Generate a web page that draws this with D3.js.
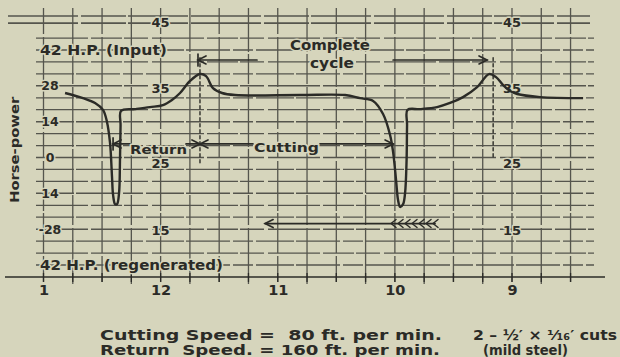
<!DOCTYPE html>
<html>
<head>
<meta charset="utf-8">
<script src="https://cdn.jsdelivr.net/npm/d3@7"></script>
<style>
  html, body { margin: 0; padding: 0; background: #d6d5bc; }
  svg { display: block; }
  text {
    font-family: "DejaVu Sans", "Liberation Sans", Arial, sans-serif;
    font-weight: bold;
    fill: #2b2b27;
    white-space: pre;
  }
  .halo { paint-order: stroke; stroke: #d6d5bc; stroke-width: 3px; stroke-linejoin: round; }
</style>
</head>
<body>
<svg id="chart" width="620" height="357"></svg>
<script>
// Clock readings along the record (running right to left), and their labels
const timeTicks = [13, 12, 11, 10, 9];
const timeTickLabels = ["1", "12", "11", "10", "9"];

// Horse-power scale
const hpTicks = [28, 14, 0, -14, -28];
const hpTickLabels = ["28", "14", "0", "14", "-28"];

// Recorder paper scale figures
const paperScaleLabels = ["45", "35", "25", "15"];
const paperScaleHP = [52.9, 27.1, -2.0, -28.3];
const paperScaleTimes = [12, 9];

// Power trace over two planer strokes (time, horse-power)
const traceTime = [12.816, 12.663, 12.560, 12.492, 12.458, 12.432, 12.415, 12.406, 12.389, 12.372,
  12.355, 12.347, 12.342, 12.338, 12.219, 12.091, 11.980, 11.903, 11.834, 11.749,
  11.664, 11.612, 11.553, 11.476, 11.365, 10.810, 10.425, 10.297, 10.186, 10.101,
  10.041, 10.015, 9.990, 9.973, 9.956, 9.930, 9.913, 9.900, 9.896, 9.892,
  9.785, 9.640, 9.529, 9.418, 9.298, 9.196, 9.136, 9.076, 9.016, 8.956,
  8.760, 8.393];
const traceHP = [25.2, 23.2, 21.3, 18.6, 13.9, 5.7, -7.6, -14.6, -18.2, -18.2,
  -13.9, -1.0, 12.7, 18.2, 18.9, 19.7, 20.5, 22.5, 25.2, 29.9,
  32.6, 31.8, 27.1, 25.2, 24.4, 24.4, 24.4, 23.2, 22.1, 17.0,
  8.8, 2.1, -8.8, -16.6, -19.3, -18.2, -13.9, -1.0, 12.7, 18.6,
  18.9, 19.7, 21.3, 23.6, 27.5, 32.6, 31.4, 28.3, 26.0, 24.8,
  23.6, 23.2];

// Stroke phases marked under the trace (times)
const returnSpan = [12.406, 11.664];
const cuttingSpan = [11.664, 10.015];
const cycleSpan = [11.681, 9.213];
const cycleLeftEnd = 11.177;
const cycleRightStart = 10.015;
const regenArrow = [11.108, 9.657];

const svg = d3.select("#chart");
const ink = "#2b2b27";
const gridInk = "#55554d";

const x = d3.scaleLinear().domain([13, 9]).range([43.5, 512]);
const y = d3.scaleLinear().domain([42, -42]).range([50, 265]);

// ---- chart paper grid ----
const grid = svg.append("g");
const hLines = d3.range(-9, 11).map(k => k * 14 / 3);
grid.selectAll(".h").data(hLines).join("line")
  .attr("x1", 36).attr("x2", 594)
  .attr("y1", d => y(d)).attr("y2", d => y(d))
  .attr("stroke", gridInk)
  .attr("stroke-width", d => (Math.abs(d) % 14 < 0.01 ? 1.5 : 1.2))
  .attr("stroke-dasharray", (d, i) => i % 2 ? "52,3,31,2,24,4" : "38,2,44,3,20,3");

// heavy double rule along the top edge of the paper
[52.5, 55.3].forEach(v => {
  grid.append("line")
    .attr("x1", 8).attr("x2", 590)
    .attr("y1", y(v)).attr("y2", y(v))
    .attr("stroke", gridInk).attr("stroke-width", 1.6)
    .attr("stroke-dasharray", "70,3,45,2,60,3");
});

const vLines = d3.range(0, 19).map(k => 13 - k / 4);
grid.selectAll(".v").data(vLines).join("line")
  .attr("x1", d => x(d)).attr("x2", d => x(d))
  .attr("y1", 8).attr("y2", 284)
  .attr("stroke", gridInk).attr("stroke-width", 1.3)
  .attr("stroke-dasharray", (d, i) => i % 2 ? "44,2,30,3,60,2" : "26,3,50,2,40,3");

// ---- time axis ----
const xAxis = d3.axisBottom(x)
  .tickValues(timeTicks)
  .tickFormat((d, i) => timeTickLabels[i])
  .tickSize(0)
  .tickPadding(8);
const axisY = y(-14 * 10 / 3);
const axisG = svg.append("g")
  .attr("transform", `translate(0,${axisY})`)
  .call(xAxis);
axisG.select(".domain").remove();
axisG.selectAll("text")
  .style("font-size", "14.5px")
  .style("font-family", "\"DejaVu Sans\", sans-serif")
  .style("font-weight", "bold")
  .attr("fill", ink);
svg.append("line")
  .attr("x1", 5).attr("x2", 605)
  .attr("y1", axisY).attr("y2", axisY)
  .attr("stroke", ink).attr("stroke-width", 1.4);
svg.selectAll(".minor").data(vLines).join("line")
  .attr("x1", d => x(d)).attr("x2", d => x(d))
  .attr("y1", axisY - 4).attr("y2", axisY + 5)
  .attr("stroke", ink).attr("stroke-width", 1.3);

// ---- horse-power labels ----
svg.selectAll(".hpLab").data(hpTicks).join("text")
  .attr("class", "halo")
  .attr("x", 50)
  .attr("y", d => y(d) + 4.5)
  .attr("text-anchor", "middle")
  .style("font-size", "12.5px")
  .text((d, i) => hpTickLabels[i]);

svg.append("text").attr("class", "halo")
  .attr("x", 40).attr("y", y(42) + 5)
  .attr("textLength", 127).attr("lengthAdjust", "spacingAndGlyphs")
  .style("font-size", "14px")
  .text("42 H.P. (Input)");

svg.append("text").attr("class", "halo")
  .attr("x", 40).attr("y", y(-42) + 5)
  .attr("textLength", 183).attr("lengthAdjust", "spacingAndGlyphs")
  .style("font-size", "14px")
  .text("42 H.P. (regenerated)");

svg.append("text")
  .attr("transform", `translate(19,${y(3)}) rotate(-90)`)
  .attr("text-anchor", "middle")
  .attr("textLength", 106).attr("lengthAdjust", "spacingAndGlyphs")
  .style("font-size", "12.5px")
  .text("Horse-power");

// recorder paper scale figures, two columns
paperScaleTimes.forEach(t => {
  svg.selectAll(null).data(paperScaleHP).join("text")
    .attr("class", "halo")
    .attr("x", x(t))
    .attr("y", d => y(d) + 5)
    .attr("text-anchor", "middle")
    .style("font-size", "13px")
    .text((d, i) => paperScaleLabels[i]);
});

// ---- arrows and phase marks ----
const marks = svg.append("g")
  .attr("stroke", ink).attr("fill", "none")
  .attr("stroke-width", 1.7).attr("stroke-linecap", "round");

function head(px, py, dir) {
  marks.append("path")
    .attr("d", `M${px - dir * 8},${py - 4} L${px},${py} L${px - dir * 8},${py + 4}`);
}
function seg(xa, xb, py) {
  marks.append("line").attr("x1", xa).attr("x2", xb).attr("y1", py).attr("y2", py);
}

// dotted markers through the power peaks
[11.664, 9.161].forEach((t, i) => {
  marks.append("line")
    .attr("x1", x(t)).attr("x2", x(t))
    .attr("y1", y(39)).attr("y2", y(i ? -0.5 : -3))
    .attr("stroke-width", 1.4)
    .attr("stroke-dasharray", "3,3");
});

// complete cycle
const cyY = y(38.1);
seg(x(cycleSpan[0]), x(cycleLeftEnd), cyY);
head(x(cycleSpan[0]), cyY, -1);
marks.append("line")
  .attr("x1", x(cycleSpan[0])).attr("x2", x(cycleSpan[0]))
  .attr("y1", cyY - 6).attr("y2", cyY + 6);
seg(x(cycleRightStart), x(cycleSpan[1]), cyY);
head(x(cycleSpan[1]), cyY, 1);

svg.append("text").attr("class", "halo")
  .attr("x", 330).attr("y", 50)
  .attr("text-anchor", "middle")
  .attr("textLength", 80).attr("lengthAdjust", "spacingAndGlyphs")
  .style("font-size", "13.5px").text("Complete");
svg.append("text").attr("class", "halo")
  .attr("x", 332).attr("y", 68)
  .attr("text-anchor", "middle")
  .attr("textLength", 44).attr("lengthAdjust", "spacingAndGlyphs")
  .style("font-size", "13.5px").text("cycle");

// return and cutting strokes
const phY = y(5.3);
svg.append("text").attr("class", "halo")
  .attr("x", 130).attr("y", phY + 10)
  .attr("textLength", 57).attr("lengthAdjust", "spacingAndGlyphs")
  .style("font-size", "12.5px").text("Return");
seg(x(returnSpan[0]), 130, phY);
seg(186, x(returnSpan[1]), phY);
head(x(returnSpan[0]), phY, -1);
head(x(returnSpan[1]), phY, 1);
marks.append("line")
  .attr("x1", x(returnSpan[0])).attr("x2", x(returnSpan[0]))
  .attr("y1", phY - 6).attr("y2", phY + 6);

svg.append("text").attr("class", "halo")
  .attr("x", 254).attr("y", phY + 8)
  .attr("textLength", 65).attr("lengthAdjust", "spacingAndGlyphs")
  .style("font-size", "12.5px").text("Cutting");
seg(x(cuttingSpan[0]), 253, phY);
seg(320, x(cuttingSpan[1]), phY);
head(x(cuttingSpan[0]), phY, -1);
head(x(cuttingSpan[1]), phY, 1);

// regenerating stroke arrow, fletched at its tail
const rgY = y(-25.8);
seg(x(regenArrow[0]), x(regenArrow[1]), rgY);
head(x(regenArrow[0]), rgY, -1);
d3.range(0, 7).forEach(k => {
  const fx = x(regenArrow[1]) - 44 + k * 7;
  marks.append("path")
    .attr("stroke-width", 1.4)
    .attr("d", `M${fx + 5},${rgY - 4} L${fx},${rgY} L${fx + 5},${rgY + 4}`);
});

// ---- power trace ----
const line = d3.line()
  .x(d => x(d[0]))
  .y(d => y(d[1]))
  .curve(d3.curveCatmullRom.alpha(0.5));
svg.append("path")
  .datum(traceTime.map((t, i) => [t, traceHP[i]]))
  .attr("d", line)
  .attr("fill", "none")
  .attr("stroke", ink)
  .attr("stroke-width", 2.4)
  .attr("stroke-linejoin", "round");

// ---- footnotes ----
const notes = [
  { text: "Cutting Speed =  80 ft. per min.", x: 100, y: 340, len: 342 },
  { text: "Return  Speed. = 160 ft. per min.", x: 100, y: 355, len: 340 },
  { text: "2 \u2013 \u00bd\u2032 \u00d7 \u00b9\u2044\u2081\u2086\u2032 cuts", x: 473, y: 340, len: 144 },
  { text: "(mild steel)", x: 483, y: 355, len: 85 }
];
svg.selectAll(".note").data(notes).join("text")
  .attr("x", d => d.x).attr("y", d => d.y)
  .attr("textLength", d => d.len)
  .attr("lengthAdjust", "spacingAndGlyphs")
  .style("font-size", "14.5px")
  .text(d => d.text);
</script>
</body>
</html>
